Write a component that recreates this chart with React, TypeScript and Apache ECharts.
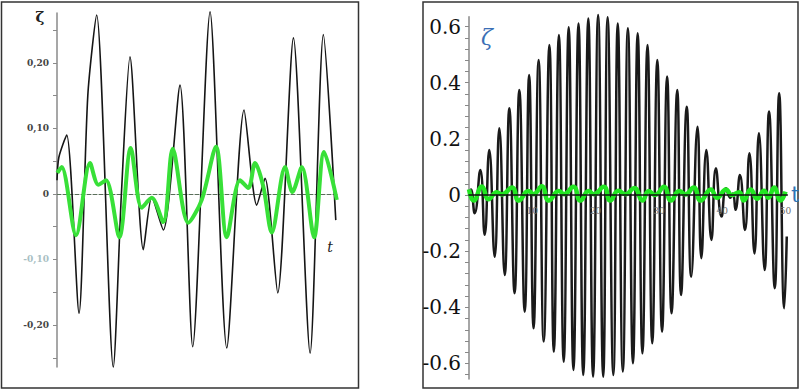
import React, { useEffect, useRef } from "react";
import * as echarts from "echarts";

// ---- Left panel (ζ vs t, 0..3) ----
const leftBlackT = [0, 0.02, 0.104, 0.236, 0.33, 0.425, 0.603, 0.69, 0.782, 0.925, 1.015, 1.139, 1.318, 1.454, 1.64, 1.819, 2.004, 2.14, 2.229, 2.365, 2.533, 2.712, 2.854, 2.987];
const leftBlack = [0.021, 0.056, 0.09, -0.182, 0.15, 0.273, -0.264, 0.0, 0.209, -0.085, -0.005, -0.055, 0.166, -0.233, 0.278, -0.235, 0.128, -0.017, 0.024, -0.151, 0.238, -0.243, 0.243, -0.04];
const leftGreenT = [0.003, 0.05, 0.204, 0.354, 0.443, 0.525, 0.668, 0.79, 0.908, 1.015, 1.139, 1.24, 1.407, 1.551, 1.704, 1.819, 1.961, 2.05, 2.122, 2.211, 2.301, 2.444, 2.522, 2.623, 2.755, 2.862, 2.998];
const leftGreen = [0.032, 0.041, -0.063, 0.047, 0.014, 0.021, -0.066, 0.07, -0.021, -0.006, -0.043, 0.069, -0.044, -0.009, 0.072, -0.066, 0.021, 0.009, 0.047, 0.011, -0.059, 0.041, 0.003, 0.041, -0.066, 0.064, -0.009];
const leftTicks = [-0.25, -0.2, -0.15, -0.1, -0.05, 0, 0.05, 0.1, 0.15, 0.2, 0.25];
const leftLabels = [-0.2, -0.1, 0, 0.1, 0.2];

// ---- Right panel (ζ vs t, 0..50) ----
const rightBlackT = [0, 0.3, 0.9, 1.79, 2.48, 3.2, 4.06, 4.79, 5.64, 6.37, 7.2, 7.95, 8.8, 9.5, 10.2, 11.0, 11.8, 12.7, 13.4, 14.2, 14.96, 15.75, 16.5, 17.3, 18.05, 18.85, 19.6, 20.4, 21.2, 21.9, 22.8, 23.5, 24.3, 25.1, 25.9, 26.65, 27.4, 28.2, 28.95, 29.75, 30.5, 31.3, 32.0, 32.9, 33.5, 34.4, 35.1, 36.1, 36.7, 37.5, 38.3, 39.0, 39.9, 40.6, 41.3, 41.7, 42.1, 42.8, 43.6, 44.3, 45.1, 45.8, 46.7, 47.4, 48.3, 49.0, 49.8, 50.2];
const rightBlack = [0, 0.02, -0.065, 0.089, -0.142, 0.16, -0.22, 0.238, -0.285, 0.309, -0.35, 0.374, -0.416, 0.427, -0.475, 0.481, -0.522, 0.534, -0.558, 0.57, -0.594, 0.597, -0.623, 0.611, -0.641, 0.629, -0.647, 0.641, -0.647, 0.633, -0.641, 0.611, -0.629, 0.594, -0.599, 0.576, -0.564, 0.534, -0.528, 0.481, -0.487, 0.422, -0.421, 0.374, -0.356, 0.314, -0.291, 0.243, -0.225, 0.16, -0.16, 0.095, -0.077, 0.024, -0.01, 0.005, -0.053, 0.071, -0.125, 0.149, -0.208, 0.22, -0.267, 0.297, -0.332, 0.362, -0.403, -0.148];
const rightGreenT = [0, 0.74, 2.05, 3.1, 4.4, 5.2, 6.8, 7.85, 9.4, 10.2, 11.5, 12.6, 14.2, 15.0, 16.5, 17.6, 18.9, 19.7, 21.3, 22.3, 23.6, 24.7, 26.1, 27.4, 28.4, 29.4, 30.8, 31.9, 33.2, 34.2, 35.5, 36.6, 38.2, 39.2, 40.6, 41.5, 42.7, 43.4, 44.5, 45.5, 46.6, 47.3, 48.2, 49.2, 50.0];
const rightGreen = [0.02, -0.02, 0.03, -0.015, 0.01, 0.002, 0.027, -0.02, 0.014, 0.003, 0.031, -0.02, 0.014, 0.003, 0.029, -0.02, 0.014, 0.003, 0.029, -0.02, 0.015, 0.003, 0.025, -0.02, 0.014, 0, 0.029, -0.02, 0.014, 0.002, 0.027, -0.02, 0.02, -0.01, 0.02, 0, 0.01, -0.02, 0.02, -0.013, 0.015, -0.01, 0.027, -0.02, 0.012];
const rightTicks = [-0.64, -0.6, -0.56, -0.52, -0.48, -0.44, -0.4, -0.36, -0.32, -0.28, -0.24, -0.2, -0.16, -0.12, -0.08, -0.04, 0, 0.04, 0.08, 0.12, 0.16, 0.2, 0.24, 0.28, 0.32, 0.36, 0.4, 0.44, 0.48, 0.52, 0.56, 0.6];
const rightLabels = [-0.6, -0.4, -0.2, 0, 0.2, 0.4, 0.6];
const rightXLabels = [10, 20, 30, 40, 50];

const zip = (a: number[], b: number[]) => a.map((x, i) => [x, b[i]]);

const R_TOP = 16.7;
const R_H = 362.2;
const R_MIN = -0.655;
const R_MAX = 0.635;

export default function App() {
  const ref = useRef<HTMLDivElement>(null);
  useEffect(() => {
    if (!ref.current) return;
    const chart = echarts.init(ref.current, undefined, { renderer: "svg" });
    const serif = "DejaVu Serif";
    const zeroLift = -(R_H * (0 - R_MIN)) / (R_MAX - R_MIN);
    chart.setOption({
      animation: false,
      backgroundColor: "#ffffff",
      grid: [
        { left: 57, top: 13, width: 280, height: 354 },
        { left: 469, top: R_TOP, width: 318.4, height: R_H },
      ],
      xAxis: [
        {
          gridIndex: 0, type: "value", min: 0, max: 3,
          axisLine: { onZero: true, lineStyle: { type: "dashed", color: "#5a6e5a", width: 1 } },
          axisTick: { show: false }, axisLabel: { show: false }, splitLine: { show: false },
        },
        {
          gridIndex: 1, type: "value", min: 0, max: 50.3, z: 5,
          position: "bottom", offset: zeroLift,
          axisLine: { onZero: false, lineStyle: { color: "#111", width: 1.5 } },
          axisTick: { show: false },
          axisLabel: { customValues: rightXLabels, fontSize: 9, color: "#6e6e6e", margin: 12, fontFamily: serif },
          splitLine: { show: false },
        },
      ],
      yAxis: [
        {
          gridIndex: 0, type: "value", min: -0.264, max: 0.276,
          axisLine: { show: true, onZero: false, lineStyle: { color: "#8a8a8a", width: 1.5 } },
          axisTick: { show: true, customValues: leftTicks, length: 4, lineStyle: { color: "#8a8a8a" } },
          axisLabel: {
            customValues: leftLabels, fontSize: 9, fontWeight: "bold", color: "#444", fontFamily: serif, margin: 8,
            formatter: (v: number) => {
              const s = Math.abs(v) < 1e-9 ? "0" : v.toFixed(2).replace(".", ",");
              return Math.abs(v + 0.1) < 1e-9 ? "{f|" + s + "}" : s;
            },
            rich: { f: { color: "#a9bfc4", fontSize: 9, fontFamily: serif, fontWeight: "bold" } },
          },
          splitLine: { show: false },
        },
        {
          gridIndex: 1, type: "value", min: R_MIN, max: R_MAX,
          axisLine: { show: true, onZero: false, lineStyle: { color: "#888", width: 1.5 } },
          axisTick: { show: true, customValues: rightTicks, length: 4, lineStyle: { color: "#888" } },
          axisLabel: {
            customValues: rightLabels, fontSize: 20, color: "#111", fontFamily: serif, margin: 8,
            formatter: (v: number) => (Math.abs(v) < 1e-9 ? "0" : v.toFixed(1)),
          },
          splitLine: { show: false },
        },
      ],
      series: [
        {
          type: "line", xAxisIndex: 0, yAxisIndex: 0, data: zip(leftBlackT, leftBlack),
          showSymbol: false, smooth: 0.25, clip: false, z: 2,
          lineStyle: { color: "#151515", width: 1.6 },
        },
        {
          type: "line", xAxisIndex: 0, yAxisIndex: 0, data: zip(leftGreenT, leftGreen),
          showSymbol: false, smooth: 0.3, clip: false, z: 3,
          lineStyle: { color: "#38e038", width: 4 },
        },
        {
          type: "line", xAxisIndex: 1, yAxisIndex: 1, data: zip(rightBlackT, rightBlack),
          showSymbol: false, smooth: 0.5, clip: false, z: 2,
          lineStyle: { color: "#1a1a1a", width: 2.5 },
        },
        {
          type: "line", xAxisIndex: 1, yAxisIndex: 1, data: zip(rightGreenT, rightGreen),
          showSymbol: false, smooth: 0.5, clip: false, z: 3,
          lineStyle: { color: "#22e622", width: 4.5 },
        },
      ],
      graphic: [
        { type: "rect", shape: { x: 1.5, y: 2, width: 357, height: 386 }, style: { fill: "none", stroke: "#333", lineWidth: 1.5 }, silent: true },
        { type: "rect", shape: { x: 423, y: 2, width: 375, height: 386 }, style: { fill: "none", stroke: "#333", lineWidth: 1.5 }, silent: true },
        { type: "text", x: 40, y: 17, style: { text: "ζ", fontSize: 15, fontWeight: "bold", fontFamily: serif, fill: "#222", align: "center", verticalAlign: "middle" } },
        { type: "text", x: 330, y: 247, style: { text: "t", fontSize: 14, fontStyle: "italic", fontFamily: serif, fill: "#222", align: "center", verticalAlign: "middle" } },
        { type: "text", x: 487, y: 37, style: { text: "ζ", fontSize: 22, fontStyle: "italic", fontFamily: serif, fill: "#3b6fb6", align: "center", verticalAlign: "middle" } },
        { type: "text", x: 791, y: 194, style: { text: "t", fontSize: 22, fontFamily: serif, fill: "#2e75b6", align: "left", verticalAlign: "middle" } },
      ],
    });
    return () => chart.dispose();
  }, []);
  return <div ref={ref} style={{ position: "fixed", left: 0, top: 0, width: 799, height: 392 }} />;
}
